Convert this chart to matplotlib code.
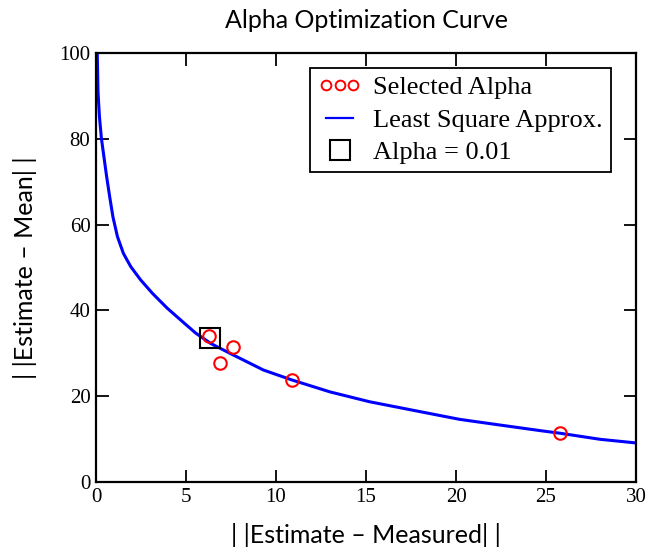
import matplotlib
matplotlib.use('Agg')
import matplotlib.pyplot as plt
from matplotlib.lines import Line2D
from matplotlib.legend_handler import HandlerLine2D

# least square approximation curve
curve_x = [0.03, 0.07, 0.11, 0.19, 0.30, 0.44, 0.59, 0.76, 0.94, 1.19, 1.52,
           1.93, 2.48, 3.13, 3.96, 4.80, 5.54, 6.37, 7.44, 9.3, 10.87, 13.0,
           15.2, 18.0, 20.2, 22.4, 24.7, 25.8, 28.0, 30.0]
curve_y = [100, 99.9, 91, 85.2, 80.1, 75.8, 71.2, 66.5, 61.8, 57.2, 53.3,
           50.2, 47.1, 44.0, 40.5, 37.4, 34.7, 32.3, 30.0, 26.1, 23.8, 21.0,
           18.7, 16.4, 14.6, 13.3, 11.96, 11.35, 9.95, 9.1]

# selected alpha points
sel_x = [6.28, 7.63, 6.89, 10.9, 25.8]
sel_y = [34.0, 31.5, 27.8, 23.8, 11.35]

# alpha = 0.01 point
best_x = [6.33]
best_y = [33.6]

x_ticks = [0, 5, 10, 15, 20, 25, 30]
y_ticks = [0, 20, 40, 60, 80, 100]

SANS = ['Lato', 'DejaVu Sans']
SERIF = 'Liberation Serif'

fig = plt.figure(figsize=(6.54, 5.54), dpi=100)
ax = fig.add_axes([0.1468, 0.13, 0.8257, 0.7743])

line, = ax.plot(curve_x, curve_y, color='#0000ff', lw=2.2,
                label='Least Square Approx.', zorder=2)
ax.plot(sel_x, sel_y, ls='none', marker='o', ms=9, mfc='none',
        mec='#ff0000', mew=1.5, zorder=3)
sq, = ax.plot(best_x, best_y, ls='none', marker='s', ms=14, mfc='none',
              mec='black', mew=1.5, label='Alpha = 0.01', zorder=4)

ax.set_xlim(0, 30)
ax.set_ylim(0, 100)
ax.set_xticks(x_ticks)
ax.set_yticks(y_ticks)
ax.tick_params(direction='in', length=9, width=1.3, top=True, right=True,
               labelsize=15, pad=4)
for lab in ax.get_xticklabels() + ax.get_yticklabels():
    lab.set_fontfamily(SERIF)
for sp in ax.spines.values():
    sp.set_linewidth(1.6)

ax.set_title('Alpha Optimization Curve', family=SANS, fontsize=18, pad=18)
ax.set_xlabel('| |Estimate \u2013 Measured| |', family=SANS, fontsize=18, labelpad=12)
ax.set_ylabel('| |Estimate \u2013 Mean| |', family=SANS, fontsize=18, labelpad=16)

# smaller circles in the legend key
sel_key = Line2D([], [], ls='none', marker='o', ms=7, mfc='none',
                 mec='#ff0000', mew=1.4, label='Selected Alpha')
line_key = Line2D([], [], color='#0000ff', lw=1.6, label='Least Square Approx.')

leg = ax.legend(handles=[sel_key, line_key, sq], loc='upper left',
                bbox_to_anchor=(0.396, 0.965), numpoints=3,
                handler_map={sq: HandlerLine2D(numpoints=1)},
                prop={'family': SERIF, 'size': 19}, fancybox=False,
                framealpha=1, edgecolor='black', borderpad=0.3,
                labelspacing=0.34, handlelength=1.65, handletextpad=0.45,
                borderaxespad=0.0)
leg.get_frame().set_linewidth(1.3)

fig.savefig('out.png', dpi=100)
